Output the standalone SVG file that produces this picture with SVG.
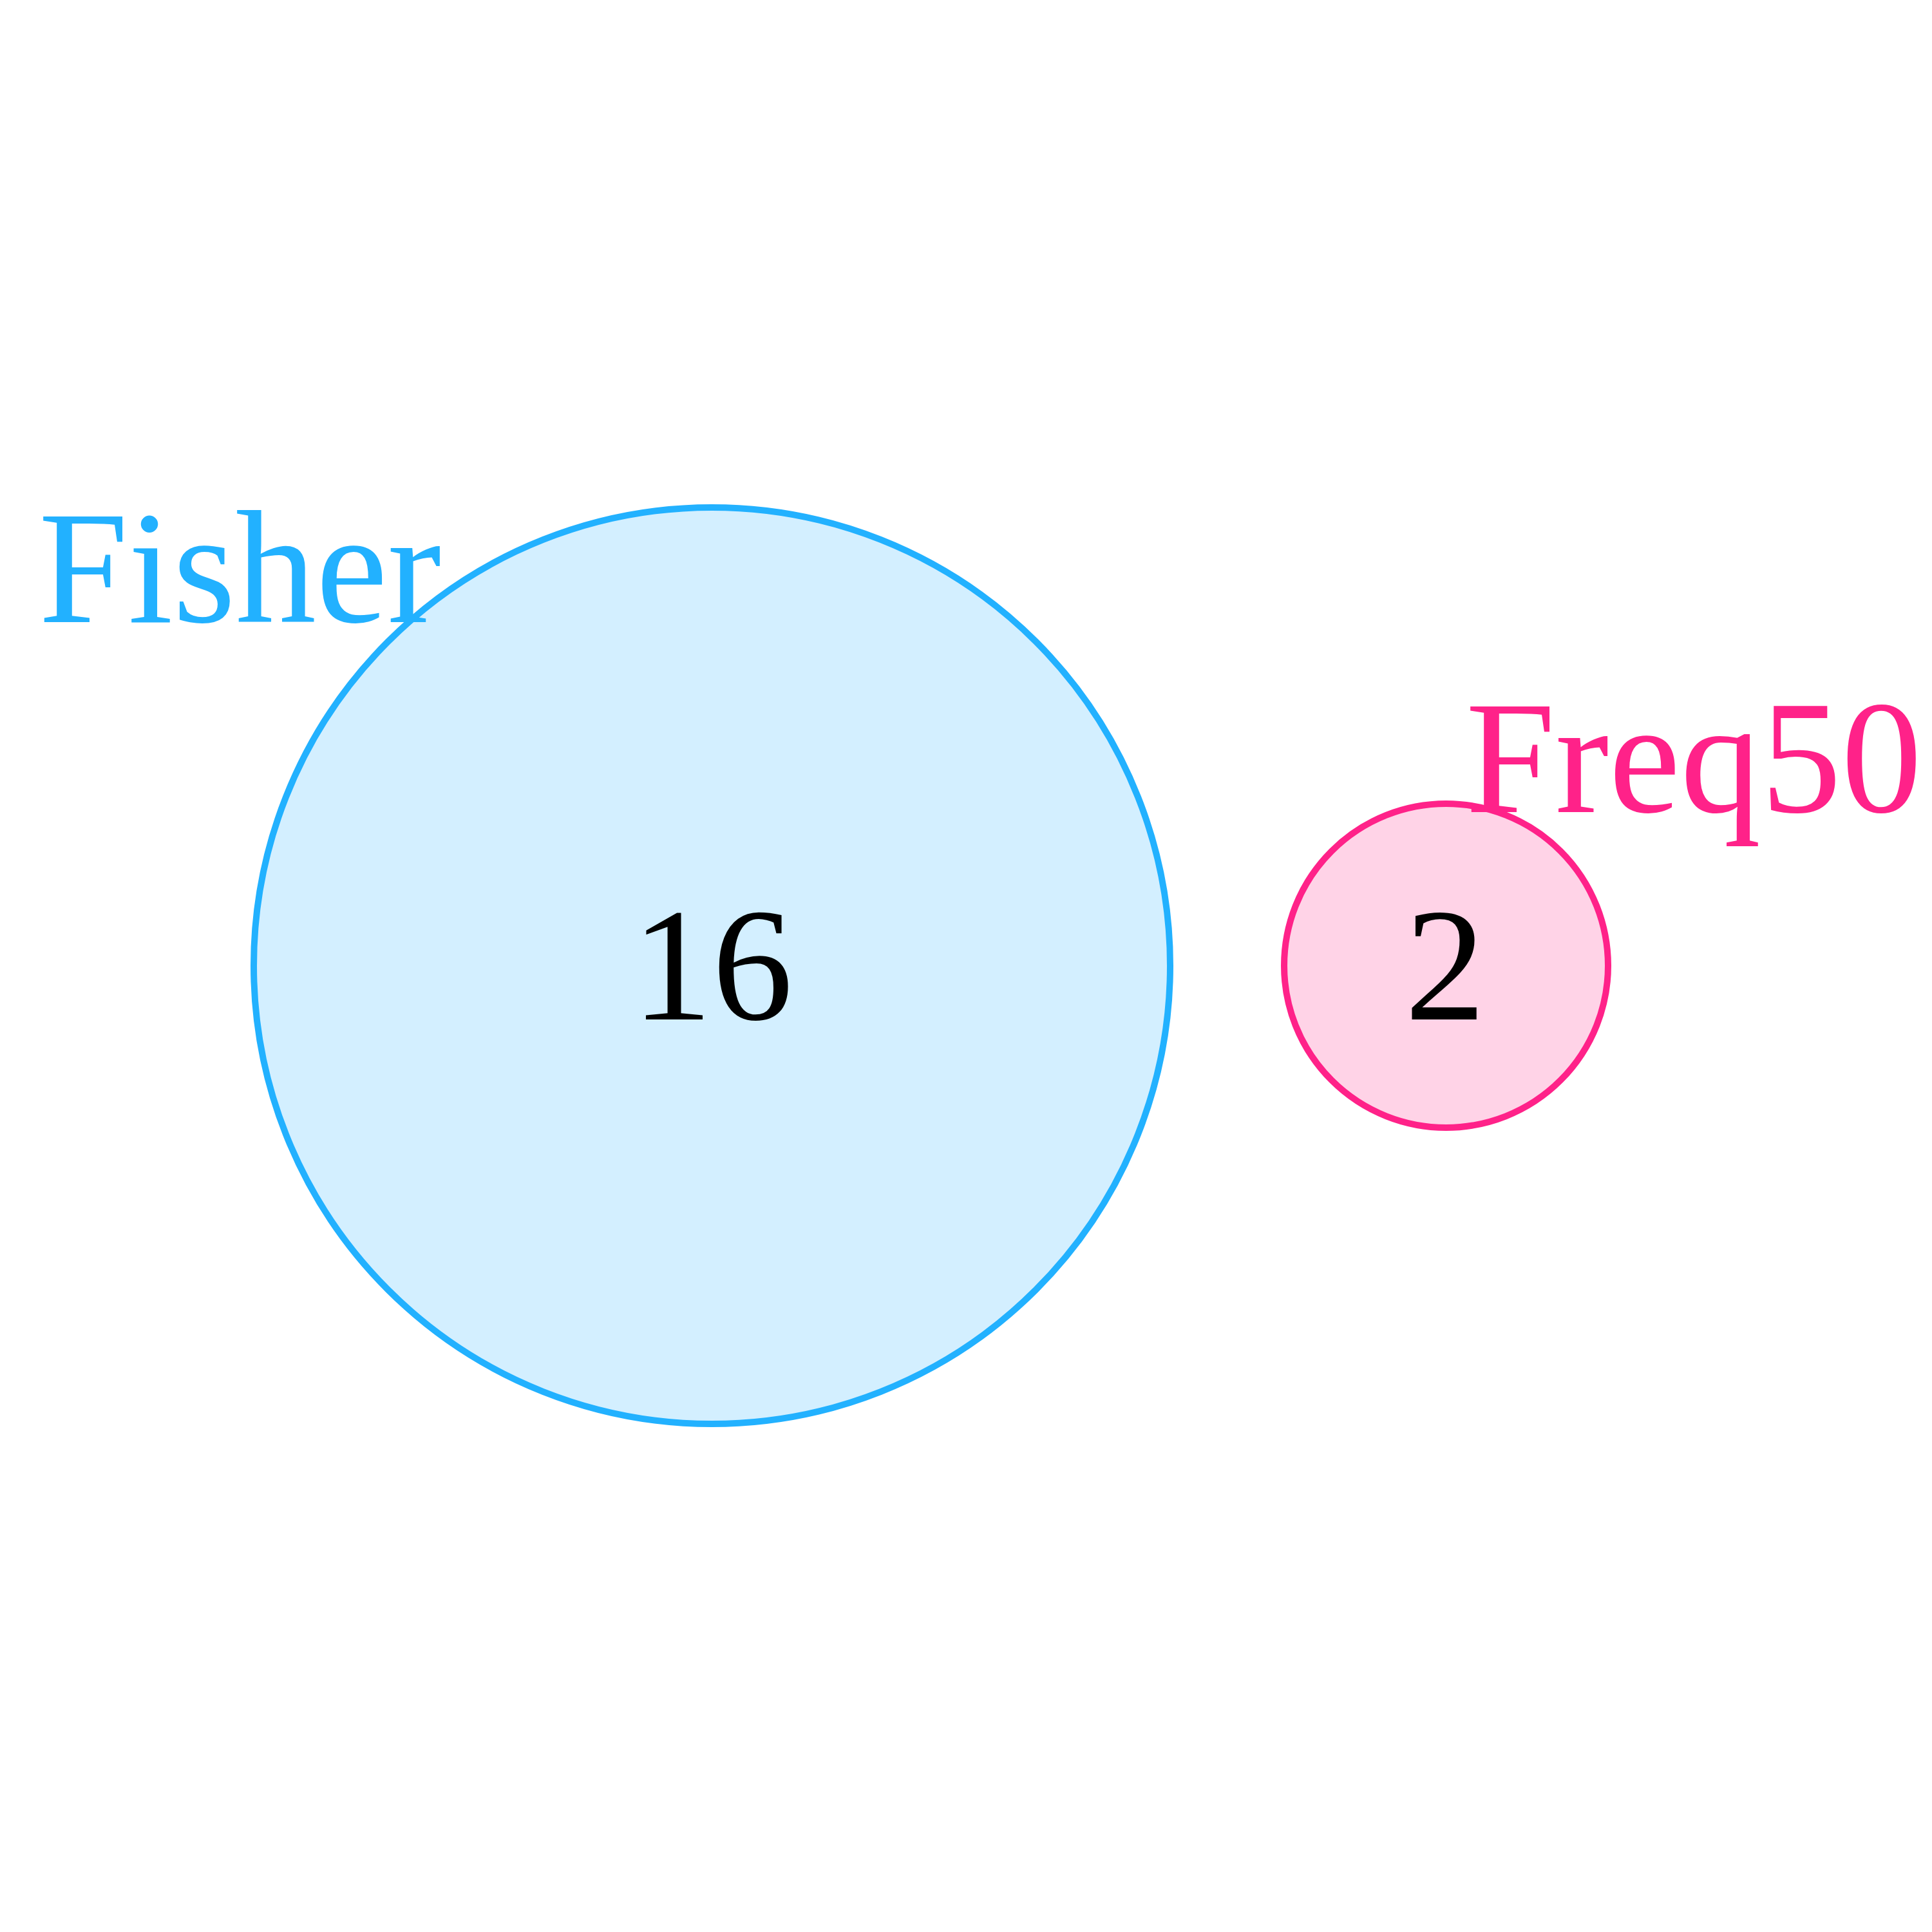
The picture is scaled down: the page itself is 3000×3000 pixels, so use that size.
<svg xmlns="http://www.w3.org/2000/svg" width="3000" height="3000" viewBox="0 0 3000 3000">
  <style>
    .set { stroke-width: 10; }
    .fisher { fill: #d3efff; stroke: #22b1ff; }
    .freq { fill: #ffd3e7; stroke: #ff2289; }
    .count { font-family: "Liberation Serif", "Times New Roman", serif; font-size: 250px; fill: #000000; text-anchor: middle; }
    .name { font-family: "Liberation Serif", "Times New Roman", serif; font-size: 250px; }
  </style>
  <rect width="3000" height="3000" fill="#ffffff"/>
  <g id="set-fisher">
    <circle class="set fisher" cx="1105.5" cy="1499.5" r="711.5"/>
    <text class="count" x="1106" y="1583">16</text>
  </g>
  <g id="set-freq50">
    <circle class="set freq" cx="2245.5" cy="1499.5" r="251.5"/>
    <text class="count" x="2244" y="1583">2</text>
  </g>
  <g id="connectors"></g>
  <g id="labels">
    <text class="name" x="60" y="966" fill="#22b1ff">Fisher</text>
    <text class="name" x="2276" y="1261" fill="#ff2289">Freq50</text>
  </g>
</svg>
